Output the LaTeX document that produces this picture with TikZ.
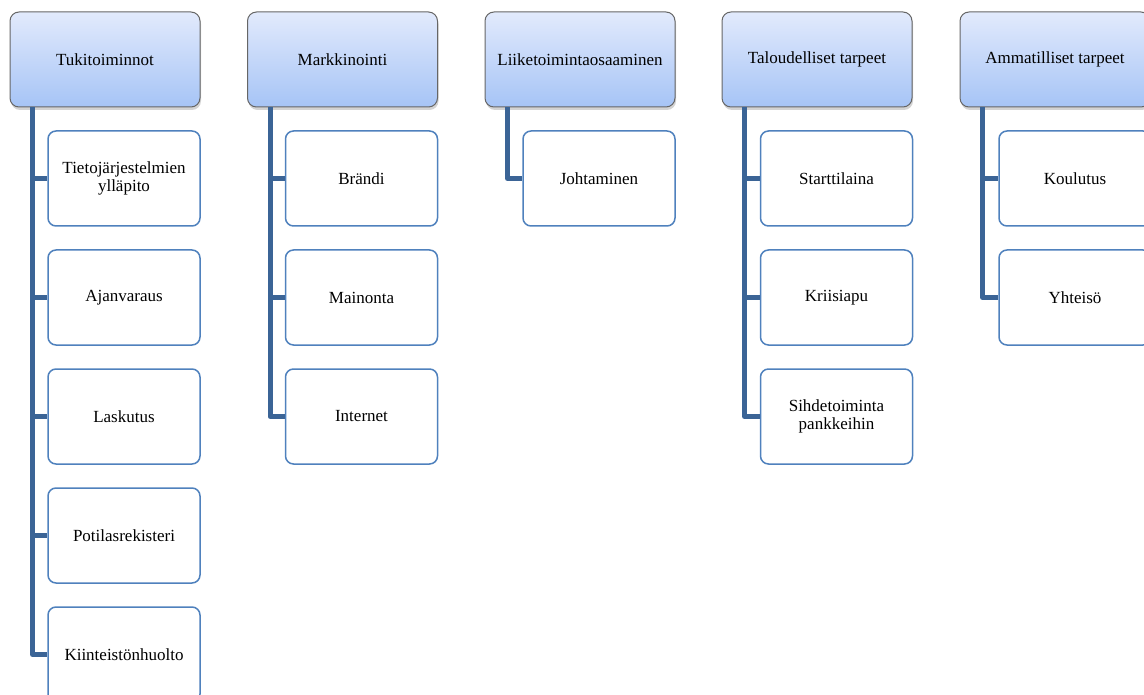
\documentclass[tikz,border=0pt]{standalone}
\usepackage{fontspec}
\setmainfont{Liberation Serif}
\usetikzlibrary{calc, shadows}

\definecolor{branchblue}{RGB}{59,100,150}
\definecolor{boxblue}{RGB}{79,129,189}
\definecolor{headtop}{RGB}{226,234,252}
\definecolor{headbot}{RGB}{166,196,246}

\tikzset{
  head/.style={draw=gray!80!black, line width=1pt, rounded corners=9pt,
    top color=headtop, bottom color=headbot,
    drop shadow={shadow xshift=1pt, shadow yshift=-3pt, opacity=0.35},
    minimum width=190pt, minimum height=95pt, inner sep=0pt,
    font=\fontsize{17}{18}\selectfont},
  leaf/.style={draw=boxblue, line width=1.5pt, fill=white, rounded corners=8pt,
    minimum width=152pt, minimum height=95pt, inner sep=0pt, align=center,
    font=\fontsize{17}{18}\selectfont},
  branch/.style={draw=branchblue, line width=5pt, line join=round}
}

\begin{document}
\begin{tikzpicture}[x=1pt, y=-1pt]
    \useasboundingbox (0,0) rectangle (1144,695);
    \clip (0,0) rectangle (1144,695);

    % --- Top row ---
    \node[head] (h1) at (105, 59.5) {Tukitoiminnot};
    \node[head] (h2) at (342.5, 59.5) {Markkinointi};
    \node[head] (h3) at (580, 59.5) {Liiketoimintaosaaminen};
    \node[head] (h4) at (817, 59.5) {Taloudelliset tarpeet};
    \node[head] (h5) at (1055, 59.5) {Ammatilliset tarpeet};

    % --- Column 1 ---
    \node[leaf] (c11) at (124, 178.5) {Tietojärjestelmien\\ylläpito};
    \node[leaf] (c12) at (124, 297.5) {Ajanvaraus};
    \node[leaf] (c13) at (124, 416.5) {Laskutus};
    \node[leaf] (c14) at (124, 535.5) {Potilasrekisteri};
    \node[leaf] (c15) at (124, 654.5) {Kiinteistönhuolto};

    % --- Column 2 ---
    \node[leaf] (c21) at (361.5, 178.5) {Brändi};
    \node[leaf] (c22) at (361.5, 297.5) {Mainonta};
    \node[leaf] (c23) at (361.5, 416.5) {Internet};

    % --- Column 3 ---
    \node[leaf] (c31) at (599, 178.5) {Johtaminen};

    % --- Column 4 ---
    \node[leaf] (c41) at (836.5, 178.5) {Starttilaina};
    \node[leaf] (c42) at (836.5, 297.5) {Kriisiapu};
    \node[leaf] (c43) at (836.5, 416.5) {Sihdetoiminta\\pankkeihin};

    % --- Column 5 ---
    \node[leaf] (c51) at (1075, 178.5) {Koulutus};
    \node[leaf] (c52) at (1075, 297.5) {Yhteisö};

    % Connectors
    \foreach \i/\n in {1/5, 2/3, 3/1, 4/3, 5/2} {
        \foreach \j in {1,...,\n} {
            \draw[branch] ($(h\i.south west)+(23,0)$) |- (c\i\j.west);
        }
    }
\end{tikzpicture}
\end{document}
